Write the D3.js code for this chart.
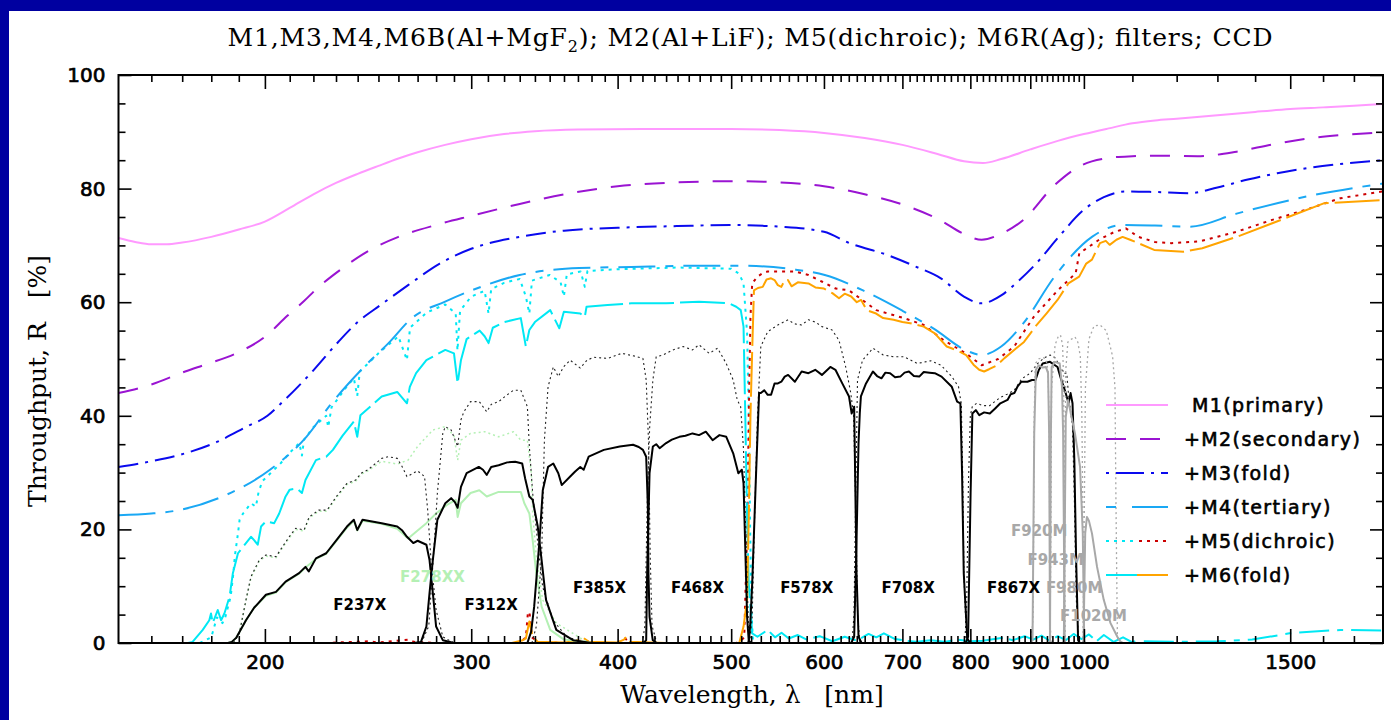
<!DOCTYPE html>
<html lang="en">
<head>
<meta charset="utf-8">
<title>Throughput: mirrors, filters, CCD</title>
<script src="https://cdnjs.cloudflare.com/ajax/libs/d3/7.8.5/d3.min.js"></script>
<style>
  html, body { margin: 0; padding: 0; background: #0000a0; overflow: hidden; }
  svg { display: block; }
  .serif { font-family: "DejaVu Serif", serif; fill: #000; }
  .num { font-family: "DejaVu Sans", sans-serif; font-size: 20px; fill: #000; stroke: #000; stroke-width: 0.7px; }
  .leg { font-family: "DejaVu Sans", sans-serif; font-size: 19px; letter-spacing: 1.4px; fill: #000; stroke: #000; stroke-width: 0.6px; }
  .flab { font-family: "DejaVu Sans", sans-serif; font-size: 15px; font-weight: bold; text-anchor: middle; }
</style>
</head>
<body>
<svg id="chart"></svg>
<script>
// ---- data: [wavelength nm, throughput %] ----
var m1 = [[150,71.3],[155,70.6],[160,70.2],[165,70.2],[170,70.5],[180,71.5],[190,72.8],[200,74.2],[210,76.6],[220,79.0],[230,81.0],[240,82.6],[250,84.0],[260,85.3],[270,86.4],[285,87.7],[300,88.7],[320,89.6],[340,90.1],[370,90.4],[420,90.5],[500,90.5],[550,90.3],[600,89.8],[650,88.9],[700,87.7],[750,86.1],[790,84.8],[820,84.5],[850,85.2],[900,86.9],[950,88.4],[1000,89.6],[1050,90.6],[1100,91.5],[1150,92.0],[1200,92.3],[1300,92.9],[1400,93.5],[1500,94.0],[1600,94.3],[1700,94.6],[1800,94.9]];

var m2 = [[150,44.0],[160,45.5],[171,47.8],[179,49.2],[189,51.0],[200,53.9],[209,57.6],[216,60.2],[221,62.2],[233,66.0],[245,69.0],[260,71.5],[280,73.6],[300,75.2],[330,77.3],[360,79.0],[400,80.4],[450,81.1],[500,81.3],[550,81.1],[600,80.4],[650,79.0],[700,77.2],[753,74.5],[790,72.0],[818,71.0],[851,72.1],[888,74.5],[944,80.6],[991,83.9],[1050,85.4],[1100,85.7],[1150,85.8],[1250,85.7],[1350,86.5],[1450,87.8],[1550,88.8],[1650,89.4],[1800,89.9]];

var m3 = [[150,31.0],[160,32.0],[169,33.1],[182,35.4],[193,38.1],[201,40.0],[206,42.0],[220,48.0],[231,53.0],[240,56.5],[251,59.5],[265,63.0],[282,66.8],[300,69.4],[330,71.5],[360,72.6],[400,73.1],[450,73.4],[500,73.6],[550,73.3],[600,72.4],[631,70.4],[680,68.3],[718,66.3],[755,64.2],[790,61.0],[818,59.8],[850,61.2],[880,63.8],[916,67.4],[950,71.3],[999,76.2],[1040,78.5],[1086,79.5],[1150,79.4],[1232,79.2],[1300,80.2],[1380,81.6],[1462,82.7],[1550,83.6],[1650,84.3],[1800,85.0]];

var m4 = [[150,22.5],[160,22.8],[169,23.4],[185,26.0],[202,30.5],[217,36.3],[228,42.2],[243,48.6],[255,52.8],[267,57.2],[285,60.1],[304,62.5],[330,64.8],[371,66.0],[411,66.2],[460,66.4],[514,66.4],[564,65.8],[601,64.8],[652,61.8],[700,58.5],[745,55.3],[792,51.6],[818,50.7],[850,52.2],[888,56.3],[944,64.5],[1016,71.5],[1079,73.6],[1150,73.5],[1232,73.3],[1350,75.6],[1548,78.6],[1800,80.9]];

// M5 (dichroic): blue arm (cyan) and red arm
var m5Blue = [[176,0],[180,1.0],[182,4.5],[184,3.5],[185,4.5],[187,8.2],[188,12.3],[188.5,15.2],[189.7,19.3],[190.3,21.7],[191.6,22.8],[194.6,24.6],[196.5,24.0],[197.5,26.5],[199,28.5],[202,29.8],[206,31.5],[210,33.5],[214,35.2],[215.1,33.0],[216,35.8],[220,38.0],[225.6,40.0],[226.5,38.0],[228,41.5],[235,45.2],[238.2,46.6],[239.8,43.5],[241,47.8],[250,51.0],[260,54.0],[264.4,49.8],[266,55.5],[275,58.2],[285,59.6],[291,58.0],[292,51.5],[293.5,58.5],[300,61.0],[308,62.0],[310.4,58.0],[312,62.3],[320,63.4],[330,64.1],[334,61.0],[336.3,58.0],[338,63.8],[350,64.8],[357.6,63.5],[359.9,61.0],[362,64.9],[372,65.4],[375,62.7],[377,65.5],[400,65.8],[450,66.1],[500,65.9],[508,65.0],[512.3,63.3],[515.9,54.5],[517.6,40.0],[519,20.0],[520.5,5.0],[522,0]];
var m5Red = [[225,0],[245,0.3],[250,0.1],[265,0.6],[268,0.2],[280,0],[330,0],[334,1.0],[335.4,5.5],[336.5,5.2],[338,1.0],[342,0.2],[360,0],[375,0.5],[380,0],[400,0],[406,0.8],[410,0],[505,0],[510,0.5],[513,1.0],[516,20.0],[517.6,40.0],[519.3,57.4],[521.1,63.3],[526.5,64.5],[532,65.1],[537,65.4],[555,65.4],[567,65.4],[582,64.8],[598,63.6],[614,62.4],[630,62.1],[647,60.4],[665,58.6],[702,57.2],[730,56.0],[759,53.3],[793,51.0],[818,48.9],[845,50.0],[872,52.2],[906,57.4],[950,62.1],[984,65.1],[991,68.6],[1032,71.1],[1060,72.3],[1086,73.0],[1113,71.5],[1150,70.6],[1187,70.4],[1254,70.7],[1350,72.4],[1448,74.5],[1548,76.3],[1655,78.3],[1800,79.5]];

// M6 (fold): cyan for the blue channel, orange for the red channel
var m6Blue = [[172,0],[173.5,0.2],[177,2.3],[179.3,4.0],[179.9,5.2],[180.5,3.5],[182.3,5.8],[183.5,4.0],[184.7,5.2],[186.6,8.2],[187.8,12.3],[189.7,15.8],[192.7,17.6],[194.6,18.7],[195.8,18.1],[197.2,17.3],[198.5,20.5],[200.4,21.4],[203.7,21.1],[205.7,22.8],[208.3,25.8],[210,27.0],[213,27.2],[215.1,26.4],[216.6,28.7],[221.1,32.2],[225.6,32.8],[228.6,34.0],[233,36.5],[238.2,39.0],[239.8,36.3],[241.3,40.1],[251.6,43.4],[259.4,44.2],[264.4,42.2],[265.9,45.1],[269.2,47.5],[274.7,49.8],[285.1,51.6],[290,51.0],[292.1,45.7],[294,49.8],[297.3,53.5],[305,55.0],[308,54.0],[310.4,52.8],[313,55.5],[320,56.5],[330.7,57.2],[334,52.2],[336.3,55.1],[340,56.5],[350.4,58.6],[356.7,55.4],[359.9,58.3],[371.7,58.0],[375,57.4],[376.3,59.2],[392.2,59.5],[411,59.8],[440,59.8],[469.4,60.1],[497.7,59.8],[505,59.2],[509.5,58.6],[512.3,55.7],[514.1,39.8],[515.9,22.2],[517.6,10.5],[521.1,1.7],[526.5,1.1],[537.2,2.3],[545,1.0],[552,1.8],[560,0.8],[570,1.4],[580,0.6],[595,1.2],[610,0.3],[625,1.1],[640,0.4],[655,1.6],[665,1.0],[675,1.7],[690,0.7],[705,0.4],[720,0.2],[740,0.5],[760,0.2],[780,0.6],[800,0.3],[820,0.4],[850,0.9],[870,0.5],[890,1.2],[905,0.6],[920,1.3],[935,0.4],[950,1.2],[965,0.5],[980,1.6],[995,0.7],[1010,1.5],[1025,0.3],[1040,1.4],[1060,0.2],[1080,1.0],[1100,0.1],[1112,0.5]];
var m6Tail = [[1125,0.3],[1200,0.2],[1300,0.3],[1392,0.6],[1450,1.2],[1498,1.7],[1560,2.0],[1656,2.3],[1800,2.2]];
var m6Red = [[325,0],[332,0.5],[334,0.8],[336.3,3.8],[338.5,1.1],[342,0.2],[360,0.1],[368,0.3],[374,0.9],[378,0.2],[400,0.1],[405,0.6],[407,1.1],[410,0.2],[440,0],[508,0],[512.3,2.9],[515.9,7.6],[517.6,22.2],[519.3,39.8],[521.1,51.6],[522.9,62.1],[527,62.5],[532,62.7],[536,64.0],[540.8,64.2],[544.5,63.9],[548,63.0],[551.8,62.7],[555.5,63.9],[559,63.9],[563,62.8],[570,63.5],[582,63.3],[590,62.6],[600,62.4],[610,61.6],[618,60.7],[625,61.5],[633,61.0],[640,60.0],[645.5,60.4],[652.6,58.6],[664.8,58.0],[674,57.2],[688,56.9],[700,56.5],[711,56.3],[730,55.7],[746,54.5],[763.7,52.2],[780,51.5],[793.5,50.7],[805,49.0],[814,48.1],[822,47.8],[830,48.2],[843,48.9],[856,50.2],[872,51.6],[889,53.0],[909,55.7],[929,58.0],[949.5,60.4],[970,63.3],[990.8,64.5],[1004.6,66.8],[1016,67.5],[1032,70.4],[1044,70.8],[1052,70.1],[1066,71.0],[1079,71.5],[1095,71.0],[1113,70.4],[1148,69.2],[1216,68.9],[1262,69.5],[1350,71.5],[1448,73.9],[1602,77.4],[1800,78.0]];

// broad-band filters x CCD (solid) and without CCD (dotted)
var f237 = [[186,0],[187.4,0.2],[189,0.9],[192.7,4.0],[195.8,6.2],[200.4,8.5],[204.4,9.0],[208.3,10.8],[213.9,12.3],[216.6,13.4],[218,12.6],[221.1,14.9],[225.6,15.8],[230.2,18.1],[235,20.5],[238.2,21.7],[239.8,19.9],[242.3,21.7],[251.6,21.1],[259.4,20.5],[262,19.8],[264.4,18.7],[267.7,17.6],[270,18.0],[274.7,17.3],[276.4,14.6],[278.2,8.8],[280,2.9],[283.7,0.5],[290,0]];
var f312 = [[268,0],[271.8,0.2],[274.7,2.9],[276.4,8.8],[278.2,14.6],[280.7,21.7],[285.1,24.6],[288.4,25.5],[290.5,24.8],[292.1,23.8],[294,27.5],[297.3,29.9],[304.5,31.0],[307,30.5],[309.3,29.6],[312,31.0],[316.6,31.3],[322,31.8],[327.1,31.9],[331.6,31.6],[333.5,29.0],[336.3,25.8],[338.5,25.2],[341.9,20.5],[344.5,14.6],[347.5,7.6],[354.6,2.3],[366.5,0.5],[380,0]];
var f385 = [[335,0],[337.5,2.0],[339.5,6.4],[343.1,18.1],[345.3,26.9],[348.9,31.0],[352.5,31.6],[356,29.9],[358.4,27.8],[364.4,29.3],[368,30.2],[371.7,31.0],[374.2,30.5],[377.9,32.8],[389.3,34.0],[401.7,34.6],[412.3,34.9],[417,34.5],[420.4,34.0],[423.1,32.8],[424.5,24.0],[425,12.3],[425.9,4.6],[428.6,0.5],[432,0]];
var f468 = [[421,0],[423.1,0.5],[423.9,12.3],[425.9,29.9],[428.7,34.6],[431.5,35.0],[434.4,34.3],[440,35.2],[445,35.8],[451.6,36.3],[457,36.5],[463.4,36.9],[469.4,36.6],[475.7,37.2],[482.1,35.7],[488.6,36.6],[495.2,36.3],[502,33.4],[507.1,29.9],[510.6,30.5],[512.3,28.1],[514.1,16.4],[515.9,4.6],[517.6,0.3],[520,0]];
var f578 = [[516,0],[517.6,0.2],[519,3.0],[521.1,10.5],[524.7,28.1],[528.2,44.0],[530,44.0],[533.6,44.5],[537.2,43.7],[540.8,43.7],[544.5,45.7],[548.1,45.7],[551.8,46.0],[555.5,46.9],[559.2,47.2],[566.7,46.0],[574.3,47.8],[582,47.5],[589.8,48.1],[597.6,47.2],[607.6,48.6],[613.7,48.1],[622,45.7],[630.3,43.4],[633.6,40.4],[636.7,41.6],[637.9,29.9],[639.7,12.3],[642.2,1.1],[646,0]];
var f708 = [[633,0],[636.7,1.1],[639.7,18.1],[642.2,35.2],[643.8,40.5],[645.2,43.4],[651.7,45.7],[660.6,47.8],[666,47.0],[671.8,46.6],[677,47.6],[683.3,47.5],[690,46.8],[697.2,46.9],[703,47.6],[709.1,47.8],[716,47.0],[723.6,46.9],[730,47.7],[738.4,47.6],[746,47.5],[756,46.9],[771.4,45.1],[779.5,42.5],[784.5,42.2],[787.1,29.9],[789.7,12.3],[795.1,0.8],[800,0]];
var f867 = [[790,0],[793.5,0.2],[796.5,1.1],[800.4,26.4],[803.2,40.4],[808.7,41.0],[814.2,40.1],[822,40.6],[831.2,40.4],[840,41.3],[848.6,42.2],[860.6,42.8],[866,43.8],[872.3,44.0],[878,45.2],[884.4,46.0],[895,46.0],[903,46.3],[909.3,46.3],[915,48.0],[922.2,49.2],[935.7,49.5],[949.5,48.6],[956,46.5],[963.3,44.5],[970.4,42.2],[974.2,44.0],[977.9,42.2],[981.4,32.2],[984.9,14.6],[988.7,0.5],[992,0]];

var f237d = [[188,0],[190.2,1.7],[192.7,7.6],[194.6,11.7],[197.8,14.6],[200.4,15.5],[204.4,15.2],[207.1,17.0],[209.8,18.7],[212.5,20.2],[216,19.9],[218.2,22.2],[222.3,23.4],[226,23.4],[230.2,25.8],[235,28.1],[239.1,28.7],[241.6,29.9],[244.9,30.5],[251.6,32.5],[255,32.8],[259.4,32.5],[262,31.0],[264.4,29.3],[267.7,29.9],[270,30.3],[273.7,29.3],[275.4,23.4],[277.2,14.6],[280,5.8],[283.7,1.1],[290,0]];
var f312d = [[272,0],[276,3.0],[279,17.6],[280.7,26.4],[283.7,36.9],[285.1,38.1],[288.4,37.5],[292.1,34.6],[294,39.3],[295.7,40.7],[299.6,42.5],[304.8,42.5],[309.3,40.7],[312,42.0],[316.6,42.5],[321,43.5],[326,44.5],[330.7,44.5],[335,41.6],[336.3,34.6],[338.5,26.4],[341.9,17.6],[345.2,9.9],[352.3,4.0],[361.9,1.1],[375,0]];
var f385d = [[338,0],[341,3.0],[344.5,15.2],[346.4,35.7],[348.9,45.1],[352.5,48.6],[356,46.9],[359.6,48.6],[364.4,49.8],[371.7,48.4],[376.7,49.8],[381.8,50.3],[392.2,50.1],[403.3,51.0],[413.7,50.5],[420.4,50.1],[423.1,46.3],[425,35.7],[426.5,15.0],[428,3.0],[432,0]];
var f468d = [[420,0],[422,3.0],[424,25.0],[426,38.0],[428.7,46.3],[431.5,50.4],[437.2,50.7],[446,51.6],[455,52.2],[463.4,51.6],[469.4,52.5],[478.8,51.0],[486.9,51.9],[495.2,49.2],[502,46.3],[506,42.8],[509.4,41.6],[512.3,34.0],[514.1,22.2],[515.9,10.5],[517.6,1.7],[520,0]];
var f578d = [[517,0],[519,1.0],[521.1,4.6],[523.6,22.2],[526.5,39.8],[530,52.2],[537.2,54.8],[548.1,56.0],[559.2,56.9],[566,56.2],[574.3,56.0],[582,56.9],[590,56.5],[597.6,55.7],[609.7,55.1],[618,53.3],[626.2,48.6],[632.5,44.0],[636,40.0],[638.5,25.0],[641,5.0],[644,0]];
var f708d = [[634,0],[636.5,5.0],[638.5,25.0],[640.9,46.3],[647.3,49.8],[660.6,51.9],[674.1,50.7],[688,50.4],[702.2,50.4],[721,49.2],[740.2,49.7],[755.2,48.9],[771.4,46.9],[781.7,45.1],[786,42.0],[788,30.0],[790,12.0],[794,0]];
var f867d = [[791,0],[794,5.0],[797,28.0],[800,40.0],[803,41.6],[810,42.2],[820,41.8],[831,41.8],[848,43.2],[860,43.8],[872,44.5],[885,46.5],[900,47.5],[913,49.2],[925,50.2],[935.7,50.7],[945,50.2],[955,48.6],[961,47.5],[966.9,47.5],[970,44.0],[977.9,38.1],[981.5,25.0],[985,8.0],[990,0]];

// F278XX (green)
var f278 = [[186,0],[187.4,0.2],[189,0.9],[192.7,4.0],[195.8,6.2],[200.4,8.3],[204.4,8.9],[208.3,10.7],[213.9,12.2],[216.6,13.3],[221.1,14.8],[225.6,15.7],[230.2,18.0],[235,20.3],[238.2,21.5],[239.8,19.8],[242.3,21.5],[251.6,21.0],[259.4,20.1],[265,18.4],[270,19.8],[274.7,21.1],[280,22.8],[286,24.3],[291,25.2],[292.1,22.2],[294,24.6],[299.6,26.4],[304.8,26.9],[309.3,25.8],[316.6,26.6],[330.7,26.6],[333,24.6],[336.3,22.8],[338.5,18.1],[340.9,12.3],[344.5,6.4],[350.4,2.3],[360,0.6],[374.3,0.2],[380,0]];
var f278d = [[188,0],[190.2,1.7],[192.7,7.4],[194.6,11.5],[197.8,14.4],[200.4,15.3],[204.4,15.0],[207.1,16.8],[209.8,18.5],[212.5,20.0],[216,19.7],[218.2,22.0],[222.3,23.2],[226,23.2],[230.2,25.6],[235,27.9],[239.1,28.5],[241.6,29.7],[244.9,30.3],[251.6,32.0],[259.4,31.5],[265,32.2],[270,34.6],[278.2,37.5],[285.1,38.1],[290,36.5],[292.1,32.2],[294,35.7],[299.6,36.9],[308,37.2],[316.6,36.3],[326,37.2],[330.7,35.7],[335,35.7],[337.6,29.9],[338.5,22.8],[340.9,15.2],[345.2,7.6],[354.6,3.5],[374.3,0.5],[380,0]];

// medium-band IR filters (grey)
var f920 = [[900,0],[904,0.5],[907,36.9],[910,48.1],[915,48.9],[922,48.5],[928,48.6],[932,47.5],[934,36.9],[935.6,0.5],[937,0]];
var f943 = [[934,0],[935.6,0.5],[937,35.0],[938.6,48.6],[944.6,49.5],[953.6,49.2],[958,45.0],[960,36.9],[963,0.5],[964,0]];
var f980 = [[960,0],[961.4,0.5],[965,39.8],[969.5,42.8],[976,39.8],[982.6,36.9],[992.5,31.0],[997.8,19.3],[1000.6,0.5],[1002,0]];
var f1020 = [[998,0],[999.3,0.5],[1002.6,19.3],[1006,22.2],[1010,21.5],[1016,19.3],[1026.2,13.4],[1039.8,7.6],[1053.7,3.5],[1067.9,1.1],[1074,0.3],[1080,0]];
var f920d = [[902,0],[905,5.0],[907,40.0],[909,49.2],[915,50.0],[922,50.3],[928,50.0],[932,48.0],[934,38.0],[936,3.0],[938,0]];
var f943d = [[935,0],[936.5,10.0],[938.5,45.0],[945,52.5],[951,54.0],[955,54.2],[959,52.5],[961,46.0],[962.5,20.0],[964,0]];
var f980d = [[961,0],[962.5,15.0],[965,48.0],[969,53.0],[976,53.5],[982.6,53.9],[988,53.0],[993,50.5],[996,40.0],[999,15.0],[1001,0]];
var f1020d = [[998,0],[1000,15.0],[1003,45.0],[1010,53.5],[1020,55.8],[1032,56.0],[1045,55.0],[1058,50.5],[1063,45.0],[1065,25.0],[1068,1.1],[1071,0]];

// filter names with the wavelength and height where their label sits
var filterNames = ["F237X","F278XX","F312X","F385X","F468X","F578X","F708X","F867X","F920M","F943M","F980M","F1020M"];
var labelWl     = [241, 278, 312, 386, 468, 580, 708, 871, 916, 946, 981, 1019];
var labelPct    = [5.8, 10.7, 5.8, 8.8, 8.8, 8.8, 8.8, 8.8, 18.8, 13.7, 8.8, 3.8];

var legendNames = ["M1(primary)","+M2(secondary)","+M3(fold)","+M4(tertiary)","+M5(dichroic)","+M6(fold)"];

var xMajor = [200,300,400,500,600,700,800,900,1000,1500];
var yMajor = [0,20,40,60,80,100];

// ---- layout ----
var W = 1391, H = 720;
var plotL = 118.5, plotR = 1383, plotT = 75, plotB = 643;

var svg = d3.select("#chart").attr("width", W).attr("height", H);
svg.append("rect").attr("x", 9).attr("y", 11).attr("width", W - 9).attr("height", H - 11).attr("fill", "#fff");

var x = d3.scaleLog().domain([150, 1800]).range([plotL, plotR]);
var y = d3.scaleLinear().domain([0, 100]).range([plotB, plotT]);

svg.append("clipPath").attr("id", "plot")
  .append("rect").attr("x", plotL).attr("y", plotT).attr("width", plotR - plotL).attr("height", plotB - plotT);

var smooth = d3.line().x(function(d) { return x(d[0]); }).y(function(d) { return y(d[1]); }).curve(d3.curveMonotoneX);
var plain = d3.line().x(function(d) { return x(d[0]); }).y(function(d) { return y(d[1]); });

var g = svg.append("g").attr("clip-path", "url(#plot)");

function draw(data, gen, color, width, dash) {
  g.append("path").attr("d", gen(data)).attr("fill", "none")
    .attr("stroke", color).attr("stroke-width", width)
    .attr("stroke-dasharray", dash || null)
    .attr("stroke-linejoin", "round");
}

var C = {
  m1: "#ff99ff", m2: "#9a14d2", m3: "#0a0aee", m4: "#1aa8f4",
  cyan: "#00e8f4", red: "#cc0000", orange: "#ffa400", green: "#b4f0b4", grey: "#a8a8a8"
};
var dash = { m2: "20,14", m3: "20,7,3,7", m4: "37,10,8,10", dot: "3,5", m6: "45,6", fine: "2,3" };

// mirrors
draw(m1, smooth, C.m1, 2);
draw(m2, smooth, C.m2, 2, dash.m2);
draw(m3, smooth, C.m3, 2, dash.m3);
draw(m5Blue, plain, C.cyan, 2, dash.dot);
draw(m5Red, plain, C.red, 2, dash.dot);
draw(m4, smooth, C.m4, 2, dash.m4);
draw(m6Blue, plain, C.cyan, 2, dash.m6);
draw(m6Tail, plain, C.cyan, 2, "30,8,6,8");
draw(m6Red, plain, C.orange, 2, dash.m6);

// F278XX
draw(f278d, plain, C.green, 1.5, dash.fine);
draw(f278, plain, C.green, 2);

// black filters
[f237d, f312d, f385d, f468d, f578d, f708d, f867d].forEach(function(d) { draw(d, plain, "#222", 1.1, dash.fine); });
[f237, f312, f385, f468, f578, f708, f867].forEach(function(d) { draw(d, plain, "#000", 2); });

// grey IR filters
[f920d, f943d, f980d, f1020d].forEach(function(d) { draw(d, plain, C.grey, 1.3, dash.fine); });
[f920, f943, f980, f1020].forEach(function(d) { draw(d, plain, C.grey, 2); });

// filter labels
svg.append("g").selectAll("text").data(filterNames).enter().append("text")
  .attr("class", "flab")
  .attr("x", function(d, i) { return x(labelWl[i]); })
  .attr("y", function(d, i) { return y(labelPct[i]); })
  .attr("fill", function(d) { return d === "F278XX" ? C.green : (/M$/.test(d) ? C.grey : "#000"); })
  .text(function(d) { return d; });

// legend
var lg = svg.append("g");
var lx0 = 1106, lx1 = 1168, lmid = 1137, ly0 = 405, lstep = 34;
function lline(i, xa, xb, color, d) {
  lg.append("line").attr("x1", xa).attr("x2", xb).attr("y1", ly0 + i * lstep).attr("y2", ly0 + i * lstep)
    .attr("stroke", color).attr("stroke-width", 2).attr("stroke-dasharray", d || null);
}
lline(0, lx0, lx1, C.m1);
lline(1, lx0, lx1, C.m2, dash.m2);
lline(2, lx0, lx1, C.m3, "3,7,28,7");
lline(3, lx0, lx1, C.m4, "10,16,37,10");
lline(4, lx0, lmid, C.cyan, dash.dot);
lline(4, lmid + 2, lx1, C.red, dash.dot);
lline(5, lx0, lmid, C.cyan);
lline(5, lmid, lx1, C.orange);
lg.selectAll("text").data(legendNames).enter().append("text")
  .attr("class", "leg")
  .attr("x", function(d, i) { return i === 0 ? 1192 : 1184; })
  .attr("y", function(d, i) { return ly0 + i * lstep + 7; })
  .text(function(d) { return d; });

// ---- axes ----
var xMinor = d3.range(160, 1000, 10).filter(function(v) { return v % 100 !== 0; })
  .concat([1100, 1200, 1300, 1400, 1600, 1700]);
var yMinor = d3.range(5, 100, 5).filter(function(v) { return v % 20 !== 0; });

function clean(sel) {
  sel.select(".domain").remove();
  sel.selectAll("line").attr("stroke", "#000").attr("stroke-width", 1.6);
  sel.attr("font-family", null).attr("font-size", null);
}

svg.append("g").attr("transform", "translate(0," + plotB + ")")
  .call(d3.axisBottom(x).tickValues(xMinor).tickSize(-7).tickFormat(""))
  .call(clean);
svg.append("g").attr("transform", "translate(0," + plotB + ")")
  .call(d3.axisBottom(x).tickValues(xMajor).tickSize(-14).tickPadding(12).tickFormat(d3.format("d")))
  .call(clean)
  .selectAll("text").attr("class", "num");
svg.append("g").attr("transform", "translate(0," + plotT + ")")
  .call(d3.axisTop(x).tickValues(xMinor).tickSize(-7).tickFormat(""))
  .call(clean);
svg.append("g").attr("transform", "translate(0," + plotT + ")")
  .call(d3.axisTop(x).tickValues(xMajor).tickSize(-14).tickFormat(""))
  .call(clean);

svg.append("g").attr("transform", "translate(" + plotL + ",0)")
  .call(d3.axisLeft(y).tickValues(yMinor).tickSize(-7).tickFormat(""))
  .call(clean);
svg.append("g").attr("transform", "translate(" + plotL + ",0)")
  .call(d3.axisLeft(y).tickValues(yMajor).tickSize(-13).tickPadding(13))
  .call(clean)
  .selectAll("text").attr("class", "num");
svg.append("g").attr("transform", "translate(" + plotR + ",0)")
  .call(d3.axisRight(y).tickValues(yMinor).tickSize(-7).tickFormat(""))
  .call(clean);
svg.append("g").attr("transform", "translate(" + plotR + ",0)")
  .call(d3.axisRight(y).tickValues(yMajor).tickSize(-13).tickFormat(""))
  .call(clean);

svg.append("rect").attr("x", plotL).attr("y", plotT).attr("width", plotR - plotL).attr("height", plotB - plotT)
  .attr("fill", "none").attr("stroke", "#000").attr("stroke-width", 2);

// ---- titles ----
var title = svg.append("text").attr("class", "serif").attr("x", 750).attr("y", 46)
  .attr("text-anchor", "middle").attr("font-size", 25)
  .attr("textLength", 1045).attr("lengthAdjust", "spacing");
title.append("tspan").text("M1,M3,M4,M6B(Al+MgF");
title.append("tspan").attr("font-size", 16).attr("dy", 6).text("2");
title.append("tspan").attr("dy", -6).text(");  M2(Al+LiF);  M5(dichroic);  M6R(Ag);  filters;  CCD");

svg.append("text").attr("class", "serif").attr("x", 752).attr("y", 703)
  .attr("text-anchor", "middle").attr("font-size", 25).style("white-space", "pre")
  .text("Wavelength, \u03bb   [nm]");

svg.append("text").attr("class", "serif")
  .attr("transform", "translate(46,381) rotate(-90)")
  .attr("text-anchor", "middle").attr("font-size", 25).style("white-space", "pre")
  .text("Throughput, R   [%]");
</script>
</body>
</html>
